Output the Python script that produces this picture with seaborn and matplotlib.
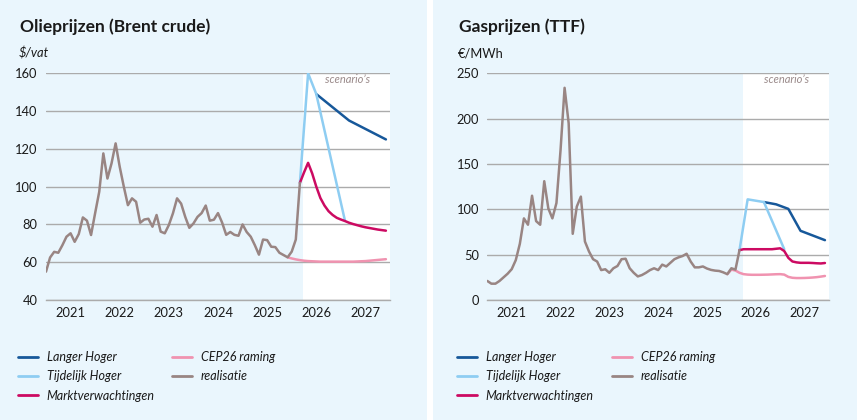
import matplotlib
matplotlib.use("Agg")
import matplotlib.pyplot as plt
import seaborn as sns
import pandas as pd
from matplotlib.lines import Line2D
from matplotlib.patches import Rectangle

# ---------------- data ----------------
years = ["2021", "2022", "2023", "2024", "2025", "2026", "2027"]
series_names = ["Langer Hoger", "Tijdelijk Hoger", "Marktverwachtingen", "CEP26 raming", "realisatie"]
colors = {
    "Langer Hoger": "#17589a",
    "Tijdelijk Hoger": "#8ecdf2",
    "Marktverwachtingen": "#cc0a62",
    "CEP26 raming": "#f093b0",
    "realisatie": "#998583",
}

# Oil (Brent, $/vat); month index 0 = Jan 2021
oil_real_months = list(range(0, 63))
oil_real = [55, 62.5, 65.5, 65, 69, 73.5, 75.3, 70.8, 74.9, 83.7, 82, 74.4,
            86, 97.3, 117.6, 104.3, 112.3, 122.9, 110.5, 100, 90.2, 93.8, 92, 80.9,
            82.6, 83, 78.8, 85, 76.2, 75.3, 79.7, 85.9, 93.8, 91, 84, 78.2,
            80.5, 84, 86, 90, 82, 82.5, 86, 81, 74.5, 76, 74.5, 74,
            80, 76, 73.5, 69, 64, 72, 71.7, 68.2, 68, 65, 63.8, 62.6,
            65.6, 72, 102]
oil_cep_months = list(range(59, 84))
oil_cep = [62.6, 62, 61.5, 61.1, 60.8, 60.6, 60.5, 60.4, 60.3, 60.3, 60.3, 60.3, 60.3,
           60.3, 60.3, 60.3, 60.3, 60.4, 60.5, 60.6, 60.8, 61, 61.2, 61.4, 61.6]
oil_markt_months = list(range(62, 84))
oil_markt = [102, 107.5, 112.6, 107, 100, 94, 90, 87, 85, 83.5, 82.6, 81.8,
             80.9, 80.2, 79.6, 79, 78.5, 78.1, 77.7, 77.3, 77, 76.7]
oil_tijd_months = [62, 64, 66, 73]
oil_tijd = [102, 160, 149, 82]
oil_langer_months = [66, 74, 83]
oil_langer = [149, 135, 125]

# Gas (TTF, EUR/MWh)
gas_real_months = list(range(0, 63))
gas_real = [21, 18, 18, 21, 25, 29, 34, 44, 62, 90, 83, 115,
            87, 83, 131, 101, 90, 107, 165, 234, 195, 73, 103, 114,
            64.5, 53.5, 45, 42.4, 33, 33.9, 30, 35, 37.5, 45, 45.5, 35,
            30, 26, 27.5, 30, 33, 35, 33, 39, 37, 41, 45, 47,
            48.5, 51, 42.4, 36, 36, 37, 34.7, 33.2, 32.4, 32, 30.5, 28.5,
            35, 33.5, 55]
gas_cep_months = list(range(59, 84))
gas_cep = [28.5, 33.5, 32.5, 30, 28.5, 28, 27.8, 27.8, 27.8, 27.9, 28, 28.2, 28.4,
           28.5, 28, 25.5, 24.5, 24.2, 24.2, 24.3, 24.5, 24.8, 25.2, 25.8, 26.5]
gas_markt_months = list(range(62, 84))
gas_markt = [55, 56, 56, 56, 56, 56, 56, 56, 56, 56.5, 57, 54,
             46.5, 42.5, 41.5, 41, 41, 41, 40.8, 40.5, 40.3, 40.8]
gas_tijd_months = [62, 64, 68, 73]
gas_tijd = [55, 111, 108, 56]
gas_langer_months = [68, 71, 74, 77, 83]
gas_langer = [108, 105.5, 100.5, 76.3, 66]


def build_df(parts):
    rows = []
    for name, months, vals in parts:
        for m, v in zip(months, vals):
            rows.append({"month": m, "value": v, "series": name})
    return pd.DataFrame(rows)


oil_df = build_df([
    ("Langer Hoger", oil_langer_months, oil_langer),
    ("Tijdelijk Hoger", oil_tijd_months, oil_tijd),
    ("Marktverwachtingen", oil_markt_months, oil_markt),
    ("CEP26 raming", oil_cep_months, oil_cep),
    ("realisatie", oil_real_months, oil_real),
])
gas_df = build_df([
    ("Langer Hoger", gas_langer_months, gas_langer),
    ("Tijdelijk Hoger", gas_tijd_months, gas_tijd),
    ("Marktverwachtingen", gas_markt_months, gas_markt),
    ("CEP26 raming", gas_cep_months, gas_cep),
    ("realisatie", gas_real_months, gas_real),
])

# ---------------- style ----------------
sns.set_style("white")
plt.rcParams["font.family"] = ["Lato", "DejaVu Sans"]

PANEL = "#eaf6fd"
GRID = "#ababab"
TEXT = "#1a1a1a"
W, H = 858, 420

fig = plt.figure(figsize=(W / 100, H / 100), dpi=100)
fig.patch.set_facecolor("white")
fig.patches.append(Rectangle((0, 0), 427 / W, 1, transform=fig.transFigure,
                             facecolor=PANEL, edgecolor="none", zorder=-10))
fig.patches.append(Rectangle((433 / W, 0), 424 / W, 1, transform=fig.transFigure,
                             facecolor=PANEL, edgecolor="none", zorder=-10))


def px_axes(x0, x1, ytop, ybot):
    return fig.add_axes([x0 / W, 1 - ybot / H, (x1 - x0) / W, (ybot - ytop) / H])


def style_axes(ax, ylim, yticks):
    ax.set_facecolor(PANEL)
    ax.axvspan(62.8, 84, color="white", zorder=0, lw=0)
    ax.set_xlim(0, 84)
    ax.set_ylim(*ylim)
    ax.set_yticks(yticks)
    ax.set_axisbelow(True)
    ax.yaxis.grid(True, color=GRID, lw=1.0)
    ax.xaxis.grid(False)
    for s in ["top", "right", "left"]:
        ax.spines[s].set_visible(False)
    ax.spines["bottom"].set_color(GRID)
    ax.spines["bottom"].set_linewidth(1.0)
    ax.set_xticks(range(0, 85, 12))
    ax.set_xticklabels([])
    ax.set_xticks([6 + 12 * i for i in range(len(years))], minor=True)
    ax.set_xticklabels(years, minor=True)
    ax.tick_params(axis="x", which="major", length=6, width=1.0, color=GRID, direction="out")
    ax.tick_params(axis="x", which="minor", length=0, pad=5, labelsize=9.3, labelcolor=TEXT)
    ax.tick_params(axis="y", length=0, pad=6, labelsize=9.3, labelcolor=TEXT)
    ax.set_xlabel("")
    ax.set_ylabel("")
    ax.text(0.942, 0.972, "scenario’s", transform=ax.transAxes, ha="right", va="center",
            fontsize=8, style="italic", color="#9a8a8a")


def draw(ax, df):
    sns.lineplot(data=df, x="month", y="value", hue="series", hue_order=series_names,
                 palette=colors, ax=ax, legend=False, linewidth=1.8, zorder=3)


ax1 = px_axes(46, 390, 73.3, 300)
draw(ax1, oil_df)
style_axes(ax1, (40, 160), [40, 60, 80, 100, 120, 140, 160])

ax2 = px_axes(487.3, 829, 73.3, 300)
draw(ax2, gas_df)
style_axes(ax2, (0, 250), [0, 50, 100, 150, 200, 250])

# titles and units
fig.text(20 / W, 1 - 27 / H, "Olieprijzen (Brent crude)", fontsize=12.5, fontweight="bold",
         color=TEXT, va="center", ha="left")
fig.text(459 / W, 1 - 27 / H, "Gasprijzen (TTF)", fontsize=12.5, fontweight="bold",
         color=TEXT, va="center", ha="left")
fig.text(19 / W, 1 - 53 / H, "$/vat", fontsize=9.3, style="italic", color=TEXT, va="center")
fig.text(458 / W, 1 - 53 / H, "€/MWh", fontsize=9.3, color=TEXT, va="center")

# legends
handles = {n: Line2D([], [], color=colors[n], lw=2.0) for n in series_names}


def add_legend(names, x, y):
    leg = fig.legend([handles[n] for n in names], names, loc="upper left",
                     bbox_to_anchor=(x / W, 1 - y / H), bbox_transform=fig.transFigure,
                     frameon=False, borderpad=0, borderaxespad=0, handlelength=1.6,
                     handletextpad=0.7, labelspacing=0.58, prop={"size": 9, "style": "italic"})
    for t in leg.get_texts():
        t.set_color(TEXT)


add_legend(series_names[:3], 18, 351)
add_legend(series_names[3:], 172, 351)
add_legend(series_names[:3], 457, 351)
add_legend(series_names[3:], 612, 351)

fig.savefig("out.png", dpi=100, facecolor="white")
